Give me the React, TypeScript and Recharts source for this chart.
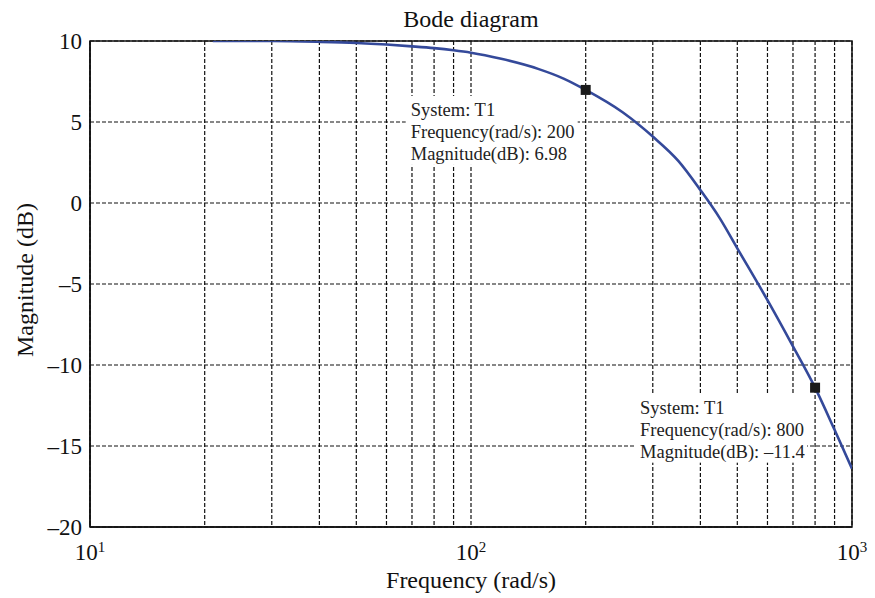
import React from 'react'
import {
  ComposedChart,
  Line,
  XAxis,
  YAxis,
  CartesianGrid,
  ReferenceArea,
} from 'recharts'

// frequency (rad/s) and magnitude (dB)
const freqs = [21, 30, 40, 50, 60, 70, 80, 90, 100, 120, 150, 175, 200, 250, 300, 350, 400, 450, 500, 600, 700, 800, 900, 1000]
const magnitudes = [10.0, 10.0, 9.95, 9.88, 9.78, 9.67, 9.56, 9.43, 9.28, 8.9, 8.28, 7.68, 6.98, 5.6, 4.1, 2.6, 0.8, -0.95, -2.8, -6.0, -8.85, -11.4, -14.0, -16.4]

// data tips shown on the curve
const tipFreqs = [200, 800]
const tipSystem = 'T1'

const xTicks = [10, 20, 30, 40, 50, 60, 70, 80, 90, 100, 200, 300, 400, 500, 600, 700, 800, 900, 1000]
const yTicks = [-20, -15, -10, -5, 0, 5, 10]

const data = freqs.map((f, i) => ({ freq: f, mag: magnitudes[i] }))

const FONT = '"Liberation Serif", "Times New Roman", serif'
const CURVE = '#34499a'

const fmtMinus = (s: string) => s.replace('-', '\u2013')

function XTick({ x, y, payload }: any) {
  const v = payload.value
  const lg = Math.log10(v)
  const e = Math.round(lg)
  if (Math.abs(lg - e) > 1e-6) return <g />
  return (
    <text x={x} y={y + 33} textAnchor="middle" fontFamily={FONT} fontSize={23} fill="#111">
      <tspan>10</tspan>
      <tspan dy={-8} fontSize={15}>{e}</tspan>
    </text>
  )
}

function YTick({ x, y, payload }: any) {
  return (
    <text x={x} y={y} dy={8} textAnchor="end" fontFamily={FONT} fontSize={23} fill="#111">
      {fmtMinus(String(payload.value))}
    </text>
  )
}

function TipDot(props: any) {
  const { cx, cy, payload, index } = props
  if (!tipFreqs.includes(payload.freq)) return <g key={'d' + index} />
  const lines = [
    `System: ${tipSystem}`,
    `Frequency(rad/s): ${payload.freq}`,
    `Magnitude(dB): ${fmtMinus(payload.mag.toPrecision(3))}`,
  ]
  return (
    <g key={'d' + index}>
      <rect x={cx - 180} y={cy + 6} width={172} height={69} fill="#fff" />
      {lines.map((t, i) => (
        <text key={i} x={cx - 175} y={cy + 26 + i * 22} fontFamily={FONT} fontSize={18.5} fill="#222">
          {t}
        </text>
      ))}
      <rect x={cx - 5} y={cy - 5} width={10} height={10} fill="#1a1a1a" />
    </g>
  )
}

export default function App() {
  return (
    <div style={{ position: 'absolute', left: 0, top: 0, width: 875, height: 598, background: '#fff' }}>
      <div
        style={{
          position: 'absolute', left: 90, width: 762, top: 7, textAlign: 'center',
          fontFamily: FONT, fontSize: 24, lineHeight: '24px', color: '#111',
        }}
      >
        Bode diagram
      </div>
      <ComposedChart width={875} height={598} data={data} margin={{ top: 41, right: 23, bottom: 0, left: 0 }}>
        <CartesianGrid stroke="#111" strokeWidth={1.2} strokeDasharray="4 2" />
        <XAxis
          dataKey="freq"
          type="number"
          scale="log"
          domain={[10, 1000]}
          ticks={xTicks}
          interval={0}
          allowDataOverflow
          height={71}
          tickSize={0}
          tickMargin={0}
          tickLine={false}
          axisLine={{ stroke: '#111', strokeWidth: 1.5 }}
          tick={<XTick />}
        />
        <YAxis
          type="number"
          domain={[-20, 10]}
          ticks={yTicks}
          interval={0}
          allowDataOverflow
          width={90}
          tickSize={0}
          tickMargin={8}
          tickLine={false}
          axisLine={{ stroke: '#111', strokeWidth: 1.5 }}
          tick={<YTick />}
        />
        <ReferenceArea x1={10} x2={1000} y1={-20} y2={10} fill="none" stroke="#111" strokeWidth={1.5} />
        <Line
          dataKey="mag"
          type="monotone"
          stroke={CURVE}
          strokeWidth={2.6}
          dot={(p: any) => <TipDot {...p} />}
          activeDot={false}
          isAnimationActive={false}
        />
      </ComposedChart>
      <div
        style={{
          position: 'absolute', left: 90, width: 762, top: 568, textAlign: 'center',
          fontFamily: FONT, fontSize: 24, lineHeight: '24px', color: '#111',
        }}
      >
        Frequency (rad/s)
      </div>
      <div
        style={{
          position: 'absolute', left: 25, top: 280, transform: 'translate(-50%, -50%) rotate(-90deg)',
          whiteSpace: 'nowrap', fontFamily: FONT, fontSize: 24, lineHeight: '24px', color: '#111',
        }}
      >
        Magnitude (dB)
      </div>
    </div>
  )
}
